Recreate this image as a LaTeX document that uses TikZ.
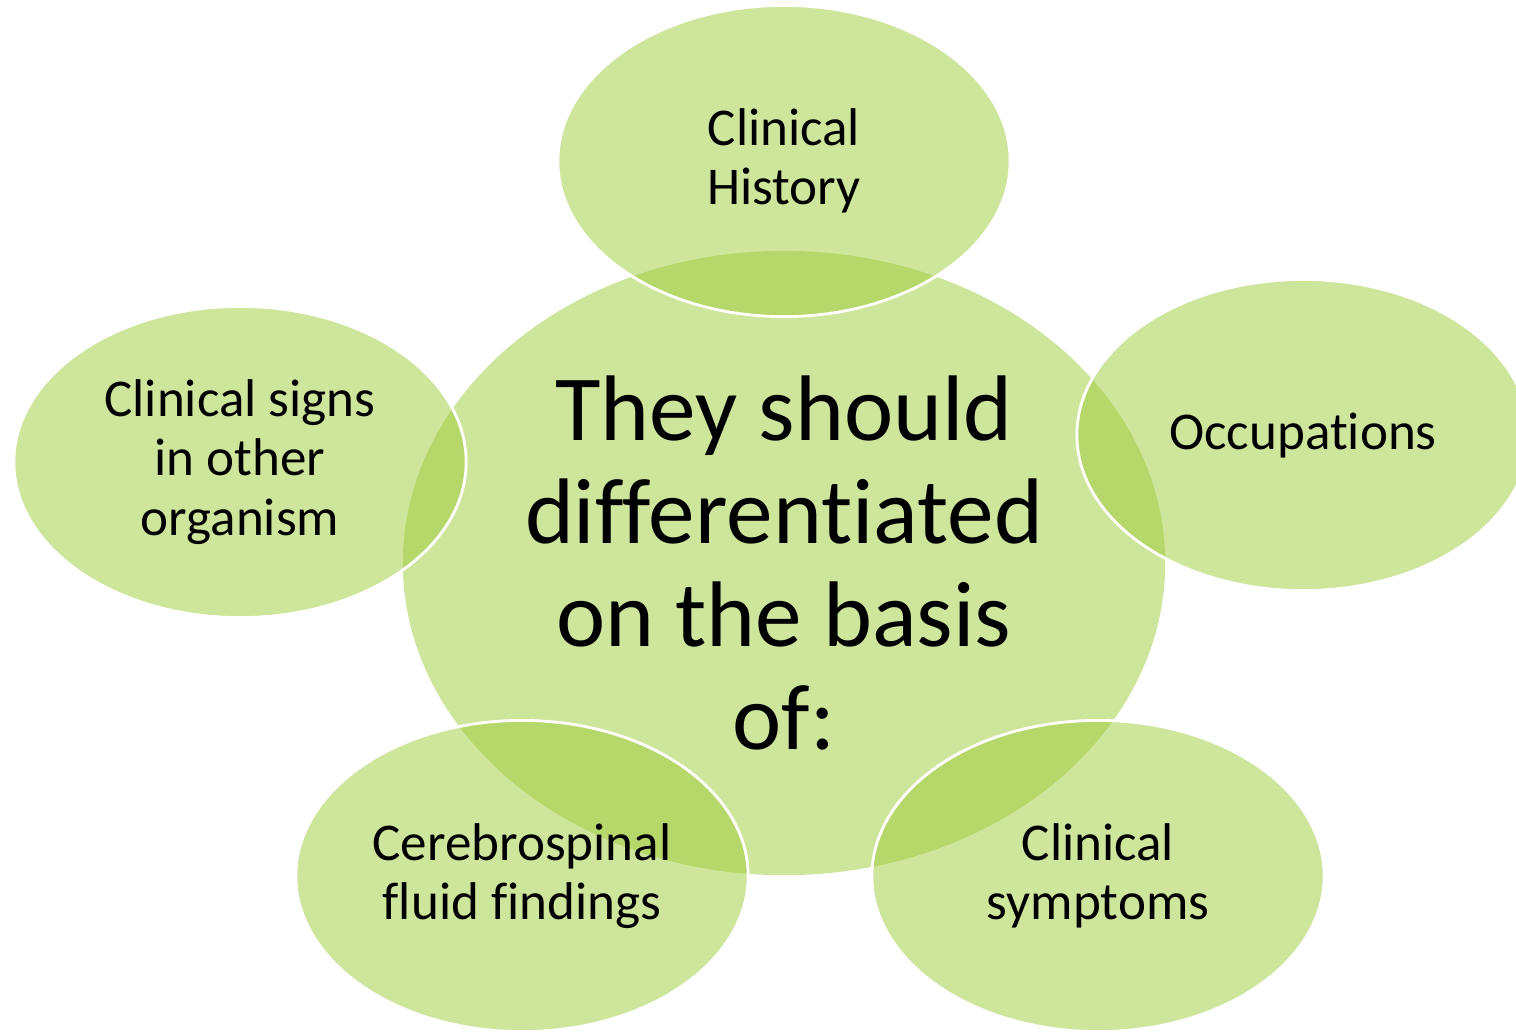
\documentclass[tikz,border=0pt]{standalone}
\usepackage{fontspec}
\setmainfont{Carlito}[Ligatures=NoCommon]
\usetikzlibrary{shapes.geometric}
\definecolor{leaf}{RGB}{158,203,58}
\begin{document}
\begin{tikzpicture}[x=0.01cm,y=-0.01cm,
  blob/.style={ellipse,fill=leaf,fill opacity=0.5,text opacity=1,inner sep=0pt,align=center},
  bubble/.style={blob,draw=white,line width=0.8pt,minimum width=4.52cm,minimum height=3.11cm,
    font=\fontsize{15.1}{16.9}\selectfont}]
\useasboundingbox (0,0) rectangle (1516,1033);
\node[blob,minimum width=7.62cm,minimum height=6.24cm,font=\fontsize{26.5}{29.3}\selectfont]
  (basis) at (784,563) {They should\\differentiated\\on the basis\\of:};
\node[bubble] (history) at (784,161) {Clinical\\History};
\node[bubble] (jobs) at (1303,435) {Occupations};
\node[bubble] (symptoms) at (1098,876) {Clinical\\symptoms};
\node[bubble] (csf) at (522,876) {Cerebrospinal\\fluid findings};
\node[bubble] (signs) at (240,462) {Clinical signs\\in other\\organism};
\end{tikzpicture}
\end{document}
